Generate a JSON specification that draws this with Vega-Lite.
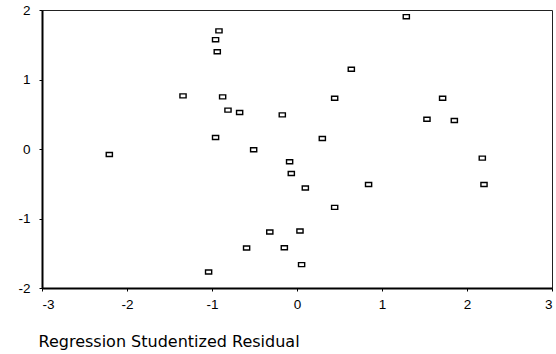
{
  "$schema": "https://vega.github.io/schema/vega-lite/v6.json",
  "width": 510,
  "height": 278,
  "autosize": {"type": "none"},
  "padding": {"left": 42, "top": 10, "right": 4, "bottom": 66},
  "background": "white",
  "config": {
    "view": {"stroke": "#222", "strokeWidth": 1},
    "axis": {"grid": false, "domainColor": "black", "domainWidth": 2, "tickColor": "black", "tickSize": 3, "labelFont": "Liberation Sans", "labelFontSize": 13.5, "labelColor": "black", "titleFont": "DejaVu Sans", "titleColor": "black", "titleFontWeight": "normal", "labelExpr": "replace(datum.label, '−', '-')"}
  },
  "data": {"values": [
    {"x": -0.918, "y": 1.70}, {"x": -0.958, "y": 1.573}, {"x": -0.938, "y": 1.40},
    {"x": -1.341, "y": 0.764}, {"x": -0.875, "y": 0.75}, {"x": -0.812, "y": 0.559},
    {"x": -0.675, "y": 0.525}, {"x": -0.173, "y": 0.491}, {"x": -0.958, "y": 0.165},
    {"x": -0.51, "y": -0.01}, {"x": 1.286, "y": 1.904}, {"x": 0.639, "y": 1.148},
    {"x": 0.443, "y": 0.731}, {"x": 1.713, "y": 0.731}, {"x": 1.529, "y": 0.429},
    {"x": 1.851, "y": 0.41}, {"x": 0.298, "y": 0.151}, {"x": -2.208, "y": -0.079},
    {"x": -0.32, "y": -1.194}, {"x": -0.593, "y": -1.424}, {"x": -1.04, "y": -1.769},
    {"x": -0.087, "y": -0.184}, {"x": -0.067, "y": -0.352}, {"x": 0.098, "y": -0.562},
    {"x": 0.842, "y": -0.51}, {"x": 2.18, "y": -0.131}, {"x": 2.2, "y": -0.51},
    {"x": 0.443, "y": -0.84}, {"x": 0.035, "y": -1.18}, {"x": -0.149, "y": -1.42},
    {"x": 0.054, "y": -1.664}
  ]},
  "mark": {"type": "point", "shape": "M-1,-0.65H1V0.65H-1Z", "size": 38, "filled": false, "stroke": "black", "strokeWidth": 1.4, "opacity": 1},
  "encoding": {
    "x": {"field": "x", "type": "quantitative", "scale": {"domain": [-3, 3], "nice": false, "zero": false},
      "axis": {"values": [-3, -2, -1, 0, 1, 2, 3], "labelPadding": 6, "title": "Regression Studentized Residual", "titleFontSize": 16, "titleAnchor": "start", "titleAlign": "left", "titleX": -4, "titleY": 58, "titleBaseline": "alphabetic"}},
    "y": {"field": "y", "type": "quantitative", "scale": {"domain": [-2, 2], "nice": false, "zero": false},
      "axis": {"values": [-2, -1, 0, 1, 2], "labelPadding": 9, "title": null}}
  }
}
